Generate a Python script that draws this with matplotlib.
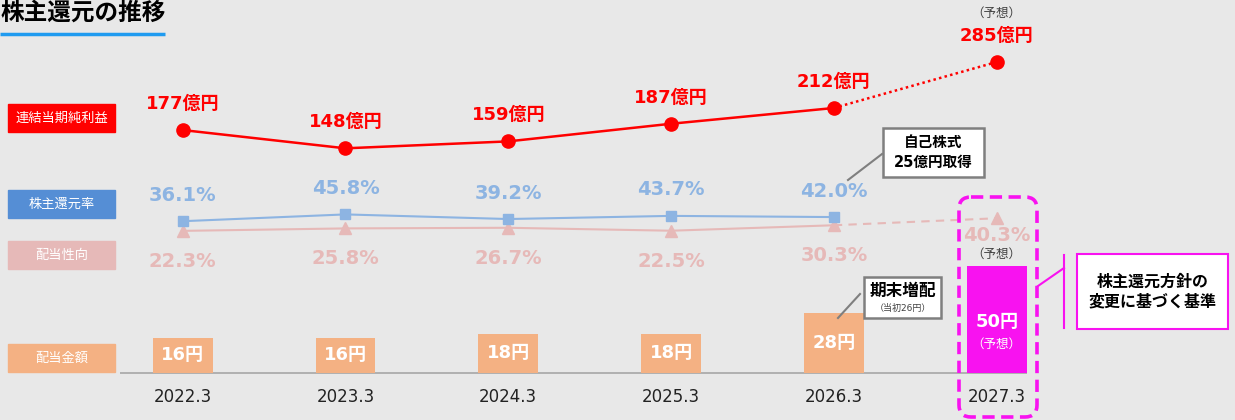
import matplotlib
matplotlib.use('Agg')
import matplotlib.pyplot as plt
from matplotlib.patches import FancyBboxPatch, Rectangle
import numpy as np

# 폰트: 숫자는 DejaVu, 일본어는 Noto CJK
plt.rcParams['font.family'] = ['DejaVu Sans', 'Noto Sans CJK JP']

years = ['2022.3', '2023.3', '2024.3', '2025.3', '2026.3', '2027.3']
net_income = [177, 148, 159, 187, 212, 285]          # 億円
return_ratio = [36.1, 45.8, 39.2, 43.7, 42.0]         # %
payout_ratio = [22.3, 25.8, 26.7, 22.5, 30.3, 40.3]   # %
dividend = [16, 16, 18, 18, 28, 50]                   # 円

RED = '#FF0000'
BLUE = '#8DB4E2'
BLUE_DARK = '#558ED5'
PINK = '#E6B9B8'
ORANGE = '#F4B183'
MAGENTA = '#F812F0'
GRAY = '#7F7F7F'

W, H = 1235, 420
fig = plt.figure(figsize=(W / 100, H / 100), dpi=100)
fig.patch.set_facecolor('#E8E8E8')

x = np.arange(len(years))
XLIM = (-1.122, 6.464)


def layer(ylim):
    ax = fig.add_axes([0, 0, 1, 1])
    ax.set_xlim(*XLIM)
    ax.set_ylim(*ylim)
    ax.axis('off')
    return ax


ax_div = layer((-22.3, 174.9))
ax_rt = layer((-247.9, 352.1))
ax_ni = layer((-283.2, 383.4))

#%% 配当金額 (bars)
colors = [ORANGE] * 5 + [MAGENTA]
ax_div.bar(x, dividend, width=0.368, color=colors, zorder=2)
ax_div.hlines(0, -0.385, 5.186, color='#A6A6A6', lw=1.2, zorder=1)
for i in range(5):
    ax_div.text(x[i], dividend[i] / 2, f'{dividend[i]}円', color='white',
                fontsize=13, fontweight='bold', ha='center', va='center', zorder=3)
ax_div.text(x[5], 23.5, f'{dividend[5]}円', color='white', fontsize=13,
            fontweight='bold', ha='center', va='center', zorder=3)
ax_div.text(x[5], 13.2, '（予想）', color='white', fontsize=9,
            ha='center', va='center', zorder=3)
ax_div.text(x[5], dividend[5] + 5.5, '（予想）', color='#404040', fontsize=9,
            ha='center', va='center')
for i, yr in enumerate(years):
    ax_div.text(x[i], -11.7, yr, color='#222222', fontsize=12,
                ha='center', va='center')

#%% 株主還元率 / 配当性向
ax_rt.plot(x[:5], payout_ratio[:5], color=PINK, lw=1.5, zorder=2)
ax_rt.plot(x[4:], payout_ratio[4:], color=PINK, lw=1.5, ls=(0, (4, 3)), zorder=2)
ax_rt.plot(x, payout_ratio, ls='none', marker='^', ms=9, color=PINK, zorder=3)
ax_rt.plot(x[:5], return_ratio, color=BLUE, lw=1.5, marker='s', ms=7.5, zorder=4)
for i, v in enumerate(return_ratio):
    ax_rt.annotate(f'{v:.1f}%', (x[i], v), xytext=(0, 18.7), textcoords='offset points',
                   ha='center', va='center', color=BLUE, fontsize=14, fontweight='bold')
for i, v in enumerate(payout_ratio):
    off = -22 if i < 5 else -12.7
    ax_rt.annotate(f'{v:.1f}%', (x[i], v), xytext=(0, off), textcoords='offset points',
                   ha='center', va='center', color=PINK, fontsize=14, fontweight='bold')

#%% 連結当期純利益
ax_ni.plot(x[:5], net_income[:5], color=RED, lw=1.8, zorder=2)
ax_ni.plot(x[4:], net_income[4:], color=RED, lw=1.8, ls=(0, (1, 1.3)), zorder=2)
ax_ni.plot(x, net_income, ls='none', marker='o', ms=9.5, color=RED, zorder=3)
for i, v in enumerate(net_income):
    ax_ni.annotate(f'{v}億円', (x[i], v), xytext=(0, 18.7), textcoords='offset points',
                   ha='center', va='center', color=RED, fontsize=13, fontweight='bold')
ax_ni.text(x[5], 383.4 - 13 / 0.63, '（予想）', color='#404040', fontsize=9,
           ha='center', va='center')

#%% overlay (pixel coords)
ov = fig.add_axes([0, 0, 1, 1])
ov.set_xlim(0, W)
ov.set_ylim(H, 0)
ov.axis('off')

# title
ov.text(1, 13, '株主還元の推移', fontsize=17, fontweight='bold', color='black',
        ha='left', va='center')
ov.plot([0, 165], [34, 34], color='#1F9BF0', lw=2.5, solid_capstyle='butt')

# left labels
labels = [('連結当期純利益', RED, 104, 132), ('株主還元率', BLUE_DARK, 190, 218),
          ('配当性向', PINK, 241, 269), ('配当金額', ORANGE, 344, 372)]
for txt, c, y0, y1 in labels:
    ov.add_patch(Rectangle((8, y0), 107, y1 - y0, color=c))
    ov.text(61.5, (y0 + y1) / 2, txt, color='white', fontsize=9.5,
            ha='center', va='center')

# 自己株式 callout
ov.plot([848, 882], [180, 154], color=GRAY, lw=1.5)
ov.add_patch(Rectangle((883, 128), 101, 49, facecolor='white', edgecolor=GRAY, lw=1.8))
ov.text(933.5, 152.5, '自己株式\n25億円取得', fontsize=10.5, fontweight='bold',
        ha='center', va='center', linespacing=1.35)

# 期末増配 callout
ov.plot([838, 860], [318, 294], color=GRAY, lw=1.5)
ov.add_patch(Rectangle((864, 277), 77, 41, facecolor='white', edgecolor=GRAY, lw=1.8))
ov.text(902.5, 291, '期末増配', fontsize=12, fontweight='bold', ha='center', va='center')
ov.text(902.5, 308, '（当初26円）', fontsize=6.5, color='#404040', ha='center', va='center')

# 2027.3 dashed box
ov.add_patch(FancyBboxPatch((959, 197), 78, 220, boxstyle='round,pad=0,rounding_size=12',
                            facecolor='none', edgecolor=MAGENTA, lw=2.6,
                            ls=(0, (3.4, 1.8)), zorder=5))
ov.plot([1038, 1064], [286, 268], color=MAGENTA, lw=1.5)
ov.plot([1064, 1064], [255, 328], color=MAGENTA, lw=1.5)
ov.add_patch(Rectangle((1077, 254), 151, 75, facecolor='white', edgecolor=MAGENTA, lw=1.5))
ov.text(1152.5, 292, '株主還元方針の\n変更に基づく基準', fontsize=11.5, fontweight='bold',
        ha='center', va='center', linespacing=1.3)

fig.savefig('out.png', dpi=100, facecolor=fig.get_facecolor())
